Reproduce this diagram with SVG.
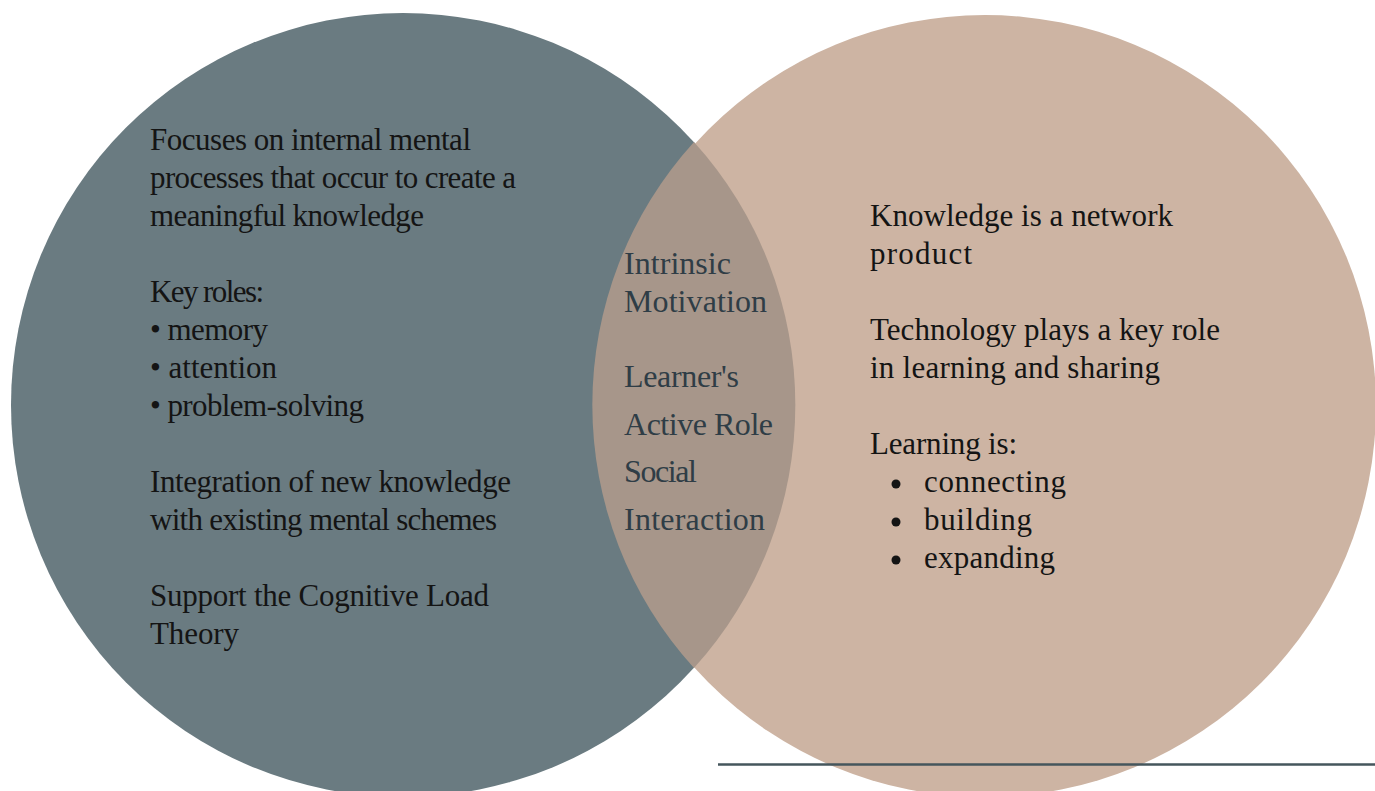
<svg xmlns="http://www.w3.org/2000/svg" width="1375" height="791" viewBox="0 0 1375 791">
  <style>
    .body { font-family: "Liberation Serif", "DejaVu Serif", serif; font-size: 31px; fill: #141414; }
    .mid { font-family: "Liberation Serif", "DejaVu Serif", serif; font-size: 32px; fill: #2f3d46; }
  </style>
  <rect width="1375" height="791" fill="#ffffff"/>

  <!-- Cognitivism circle -->
  <g id="cognitivism">
    <circle cx="403" cy="405" r="392" fill="#6a7b81"/>
    <text class="body" x="150" y="150" textLength="321">Focuses on internal mental</text>
    <text class="body" x="150" y="188" textLength="366">processes that occur to create a</text>
    <text class="body" x="150" y="226" textLength="274">meaningful knowledge</text>
    <text class="body" x="150" y="302" textLength="114">Key roles:</text>
    <text class="body" x="150" y="340" textLength="118">• memory</text>
    <text class="body" x="150" y="378" textLength="127">• attention</text>
    <text class="body" x="150" y="416" textLength="214">• problem-solving</text>
    <text class="body" x="150" y="492" textLength="361">Integration of new knowledge</text>
    <text class="body" x="150" y="530" textLength="347">with existing mental schemes</text>
    <text class="body" x="150" y="606" textLength="339">Support the Cognitive Load</text>
    <text class="body" x="150" y="644" textLength="89">Theory</text>
  </g>

  <!-- Connectivism circle -->
  <g id="connectivism">
    <circle cx="985" cy="406" r="391" fill="#cdb4a3"/>
    <text class="body" x="870" y="226" textLength="303">Knowledge is a network</text>
    <text class="body" x="870" y="264" textLength="102">product</text>
    <text class="body" x="870" y="340" textLength="350">Technology plays a key role</text>
    <text class="body" x="870" y="378" textLength="290">in learning and sharing</text>
    <text class="body" x="870" y="454" textLength="147">Learning is:</text>
    <circle cx="896" cy="484" r="4.5" fill="#141414"/>
    <circle cx="896" cy="522" r="4.5" fill="#141414"/>
    <circle cx="896" cy="560" r="4.5" fill="#141414"/>
    <text class="body" x="924" y="492" textLength="142">connecting</text>
    <text class="body" x="924" y="530" textLength="108">building</text>
    <text class="body" x="924" y="568" textLength="131">expanding</text>
  </g>

  <!-- Shared overlap -->
  <g id="overlap">
    <path d="M 694 142 A 392 392 0 0 1 694 668 A 391 391 0 0 1 694 142 Z" fill="#a7968a"/>
    <text class="mid" x="624" y="274" textLength="107">Intrinsic</text>
    <text class="mid" x="624" y="312" textLength="143">Motivation</text>
    <text class="mid" x="624" y="387" textLength="115">Learner's</text>
    <text class="mid" x="624" y="435" textLength="149">Active Role</text>
    <text class="mid" x="624" y="482" textLength="73">Social</text>
    <text class="mid" x="624" y="530" textLength="141">Interaction</text>
  </g>

  <!-- Baseline rule -->
  <g id="connectors">
    <line x1="718" y1="764.5" x2="1375" y2="764.5" stroke="#45565c" stroke-width="2.5"/>
  </g>
</svg>
